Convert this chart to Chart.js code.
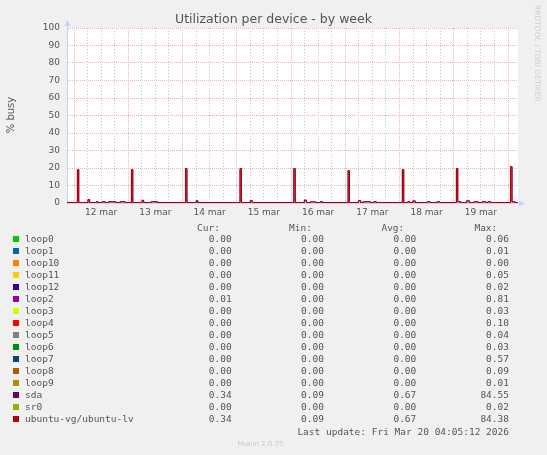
<!DOCTYPE html>
<html>
<head>
<meta charset="utf-8">
<script src="https://cdn.jsdelivr.net/npm/chart.js@4.4.1/dist/chart.umd.min.js"></script>
<style>
html, body { margin: 0; padding: 0; background: #f0f0f0; }
#wrap { position: relative; width: 547px; height: 455px; overflow: hidden; }
#graph { position: absolute; left: 0; top: 0; }
.txt { position: absolute; white-space: pre; color: #555; }
.mono { font-family: 'DejaVu Sans Mono', monospace; font-size: 9.5px; line-height: 12px; height: 12px; }
.sq { position: absolute; width: 6px; height: 6px; }
#title { left: 0; width: 547px; text-align: center; top: 11px; font: 12.5px 'DejaVu Sans', sans-serif; line-height: 16px; }
#ylab { left: -19px; top: 109px; width: 60px; text-align: center; font: 10px 'DejaVu Sans', sans-serif; line-height: 12px; transform: rotate(-90deg); }
#rrd { left: 533px; top: 5px; font: 7.5px 'DejaVu Sans', sans-serif; color: #cfcfcf; writing-mode: vertical-rl; }
#munin { left: 0; width: 521px; text-align: center; top: 440px; font: 7px 'DejaVu Sans', sans-serif; color: #c8c8c8; line-height: 9px; }
</style>
</head>
<body>
<div id="wrap">
  <canvas id="graph" width="547" height="455"></canvas>
  <div id="title" class="txt">Utilization per device - by week</div>
  <div id="ylab" class="txt">% busy</div>
  <div id="rrd" class="txt">RRDTOOL / TOBI OETIKER</div>
  <div id="legend"></div>
  <div id="munin" class="txt">Munin 2.0.75</div>
</div>
<script>
// hours since 12 mar 00:00, each value holds until the next time
const stepHours = [
    -3.1, 1.5, 2.1, 6.2, 6.9, 9.9, 10.6, 12.4, 13.8, 15.3, 18.5, 20.4, 22.6,
    25.4, 26.0, 30.1, 30.8, 34.2, 37.0,
    49.35, 49.95, 54.1, 54.8,
    73.45, 74.05, 78.0, 78.8,
    97.25, 97.85, 101.9, 102.8, 104.7, 106.8, 109.0, 110.0,
    121.25, 121.85, 125.8, 126.8, 127.9, 131.2, 132.6, 133.7,
    145.25, 145.85, 147.7, 148.6, 149.9, 150.9, 156.2, 157.5, 160.6, 161.7,
    169.15, 169.75, 171.1, 173.6, 174.9, 177.0, 178.8, 180.6, 182.1, 183.1, 184.3,
    193.15, 193.75, 195.1, 196.3
];
const lvBusy = [
    0.3, 19.0, 0.3, 1.9, 0.3, 0.7, 0.3, 0.7, 0.3, 0.7, 0.3, 0.7, 0.3,
    19.0, 0.3, 1.5, 0.3, 0.7, 0.3,
    19.6, 0.3, 1.3, 0.3,
    19.6, 0.3, 1.4, 0.3,
    19.6, 0.3, 1.6, 0.3, 0.7, 0.3, 0.7, 0.3,
    18.5, 0.3, 1.3, 0.3, 0.7, 0.3, 0.7, 0.3,
    19.0, 0.3, 0.7, 0.3, 1.2, 0.3, 0.7, 0.3, 0.7, 0.3,
    19.6, 0.7, 0.3, 1.2, 0.3, 0.7, 0.3, 0.7, 0.3, 0.7, 0.3,
    20.7, 0.7, 0.3, 0.34
];
const sdaBusy = [
    0.3, 19.1, 0.3, 1.9, 0.3, 0.7, 0.3, 0.7, 0.3, 0.7, 0.3, 0.7, 0.3,
    19.1, 0.3, 1.5, 0.3, 0.7, 0.3,
    19.7, 0.3, 1.3, 0.3,
    19.7, 0.3, 1.4, 0.3,
    19.7, 0.3, 1.6, 0.3, 0.7, 0.3, 0.7, 0.3,
    18.6, 0.3, 1.3, 0.3, 0.7, 0.3, 0.7, 0.3,
    19.1, 0.3, 0.7, 0.3, 1.2, 0.3, 0.7, 0.3, 0.7, 0.3,
    19.7, 0.7, 0.3, 1.2, 0.3, 0.7, 0.3, 0.7, 0.3, 0.7, 0.3,
    20.8, 0.7, 0.3, 0.34
];
const dayLabels = ['12 mar', '13 mar', '14 mar', '15 mar', '16 mar', '17 mar', '18 mar', '19 mar'];

const deviceNames = ['loop0', 'loop1', 'loop10', 'loop11', 'loop12', 'loop2', 'loop3', 'loop4',
    'loop5', 'loop6', 'loop7', 'loop8', 'loop9', 'sda', 'sr0', 'ubuntu-vg/ubuntu-lv'];
const deviceColors = ['#00cc00', '#0066b3', '#ff8000', '#ffcc00', '#330099', '#990099', '#ccff00', '#ff0000',
    '#808080', '#008f00', '#00487d', '#b35a00', '#b38f00', '#6b006b', '#8fb300', '#b30000'];
const curValues = ['0.00', '0.00', '0.00', '0.00', '0.00', '0.01', '0.00', '0.00', '0.00', '0.00', '0.00', '0.00', '0.00', '0.34', '0.00', '0.34'];
const minValues = ['0.00', '0.00', '0.00', '0.00', '0.00', '0.00', '0.00', '0.00', '0.00', '0.00', '0.00', '0.00', '0.00', '0.09', '0.00', '0.09'];
const avgValues = ['0.00', '0.00', '0.00', '0.00', '0.00', '0.00', '0.00', '0.00', '0.00', '0.00', '0.00', '0.00', '0.00', '0.67', '0.00', '0.67'];
const maxValues = ['0.06', '0.01', '0.00', '0.05', '0.02', '0.81', '0.03', '0.10', '0.04', '0.03', '0.57', '0.09', '0.01', '84.55', '0.02', '84.38'];
const lastUpdate = 'Last update: Fri Mar 20 04:05:12 2026';

const hourStart = -3.1;
const hourEnd = 196.4;
const axisColor = '#c8cff4';
const majorGrid = '#f2b4b4';
const minorGrid = '#c8c8c8';

buildLegend();

const arrows = {
    id: 'arrows',
    afterDraw(chart) {
        const { ctx, chartArea: a } = chart;
        ctx.save();
        ctx.strokeStyle = axisColor;
        ctx.fillStyle = axisColor;
        ctx.lineWidth = 1;
        ctx.beginPath();
        ctx.moveTo(a.left + 0.5, a.top);
        ctx.lineTo(a.left + 0.5, a.top - 4);
        ctx.moveTo(a.right, a.bottom + 0.5);
        ctx.lineTo(a.right + 3, a.bottom + 0.5);
        ctx.stroke();
        ctx.beginPath();
        ctx.moveTo(a.left + 0.5, a.top - 8);
        ctx.lineTo(a.left - 2.5, a.top - 2);
        ctx.lineTo(a.left + 3.5, a.top - 2);
        ctx.fill();
        ctx.beginPath();
        ctx.moveTo(a.right + 7, a.bottom + 0.5);
        ctx.lineTo(a.right + 1, a.bottom - 2.5);
        ctx.lineTo(a.right + 1, a.bottom + 3.5);
        ctx.fill();
        ctx.restore();
    }
};

const ctx = document.getElementById('graph');

new Chart(ctx, {
    type: 'line',
    data: {
        datasets: [
            {
                label: 'ubuntu-vg/ubuntu-lv',
                data: stepHours.map((h, i) => ({ x: h, y: lvBusy[i] })),
                borderColor: '#b30000',
                backgroundColor: 'rgba(200, 40, 60, 0.3)',
                fill: 'origin'
            },
            {
                label: 'sda',
                data: stepHours.map((h, i) => ({ x: h, y: sdaBusy[i] })),
                borderColor: '#6b006b'
            }
        ]
    },
    options: {
        responsive: false,
        animation: false,
        layout: { padding: { left: 0, top: 28, right: 29, bottom: 232 } },
        plugins: { legend: { display: false }, tooltip: { enabled: false } },
        elements: {
            point: { radius: 0 },
            line: { borderWidth: 1, stepped: true, tension: 0 }
        },
        scales: {
            x: {
                type: 'linear',
                min: hourStart,
                max: hourEnd,
                afterBuildTicks: s => {
                    const t = [];
                    for (let h = 0; h <= hourEnd; h += 6) t.push({ value: h });
                    s.ticks = t;
                },
                afterFit: s => { s.height = 20; },
                ticks: {
                    autoSkip: false,
                    maxRotation: 0,
                    padding: 4,
                    color: '#555',
                    font: { family: 'DejaVu Sans', size: 9 },
                    callback: v => (v % 24 === 12 ? dayLabels[(v - 12) / 24] : '')
                },
                grid: {
                    drawTicks: false,
                    color: c => (c.tick && c.tick.value % 24 === 0 ? majorGrid : minorGrid)
                },
                border: {
                    color: axisColor,
                    dash: c => (c.tick && c.tick.value % 24 === 0 ? [1, 1] : [1, 2])
                }
            },
            y: {
                min: 0,
                max: 100,
                afterBuildTicks: s => {
                    const t = [];
                    for (let v = 0; v <= 100; v += 5) t.push({ value: v });
                    s.ticks = t;
                },
                afterFit: s => { s.width = 67; },
                ticks: {
                    padding: 7,
                    color: '#555',
                    font: { family: 'DejaVu Sans', size: 9 },
                    callback: v => (v % 10 === 0 ? String(v) : '')
                },
                grid: {
                    drawTicks: false,
                    color: c => (c.tick && c.tick.value % 10 === 0 ? majorGrid : minorGrid)
                },
                border: {
                    color: axisColor,
                    dash: c => (c.tick && c.tick.value % 10 === 0 ? [1, 1] : [1, 2])
                }
            }
        }
    },
    plugins: [
        {
            id: 'plotBg',
            beforeDraw(chart) {
                const { ctx, chartArea: a } = chart;
                ctx.save();
                ctx.fillStyle = '#ffffff';
                ctx.fillRect(a.left, a.top, a.right - a.left, a.bottom - a.top);
                ctx.restore();
            }
        },
        arrows
    ]
});

function addText(parent, text, css) {
    const el = document.createElement('div');
    el.className = 'txt mono';
    el.textContent = text;
    Object.assign(el.style, css);
    parent.appendChild(el);
}

function buildLegend() {
    const legend = document.getElementById('legend');
    const colEnds = [231.7, 324, 416.3, 509];
    const headEnds = [220, 312, 404.3, 497.3];
    const heads = ['Cur:', 'Min:', 'Avg:', 'Max:'];
    for (let c = 0; c < 4; c++) {
        addText(legend, heads[c], { right: (547 - headEnds[c]) + 'px', top: '222px' });
    }
    for (let i = 0; i < deviceNames.length; i++) {
        const top = 233.3 + 12 * i;
        const sq = document.createElement('div');
        sq.className = 'sq';
        sq.style.left = '13.3px';
        sq.style.top = (top + 3) + 'px';
        sq.style.background = deviceColors[i];
        legend.appendChild(sq);
        addText(legend, deviceNames[i], { left: '25px', top: top + 'px' });
        const vals = [curValues[i], minValues[i], avgValues[i], maxValues[i]];
        for (let c = 0; c < 4; c++) {
            addText(legend, vals[c], { right: (547 - colEnds[c]) + 'px', top: top + 'px' });
        }
    }
    addText(legend, lastUpdate, { right: (547 - 509) + 'px', top: '425.7px' });
}
</script>
</body>
</html>
